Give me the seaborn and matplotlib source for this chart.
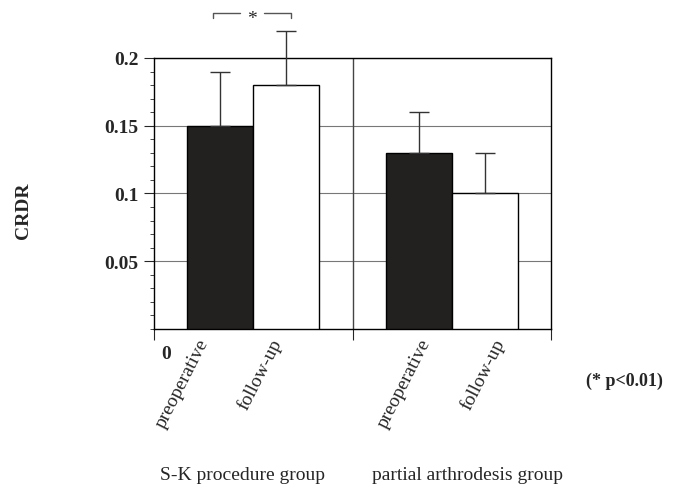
import pandas as pd
import matplotlib.pyplot as plt
import seaborn as sns
from matplotlib.ticker import MultipleLocator

groups = ["S-K procedure group", "partial arthrodesis group"]
phases = ["preoperative", "follow-up"]
crdr_pre = [0.15, 0.13]
crdr_follow = [0.18, 0.10]
sd_pre = [0.04, 0.03]
sd_follow = [0.04, 0.03]
y_ticks = [0.05, 0.1, 0.15, 0.2]

df = pd.DataFrame({
    "group": groups * 2,
    "phase": [phases[0]] * 2 + [phases[1]] * 2,
    "crdr": crdr_pre + crdr_follow,
    "sd": sd_pre + sd_follow,
})

sns.set_style("white")
plt.rcParams["font.family"] = ["Liberation Serif", "DejaVu Serif"]

fig = plt.figure(figsize=(6.79, 4.85), dpi=100)
ax = fig.add_axes([0.2268, 0.3196, 0.5847, 0.5588])

sns.barplot(data=df, x="group", y="crdr", hue="phase", hue_order=phases,
            palette=["#231f20", "white"], edgecolor="black", linewidth=1,
            width=0.665, errorbar=None, legend=False, zorder=3, ax=ax)

# one-sided error bars on top of each bar
centers = {}
for bar, (_, row) in zip(ax.patches, df.iterrows()):
    cx = bar.get_x() + bar.get_width() / 2
    centers[(row["group"], row["phase"])] = cx
    ax.errorbar(cx, row["crdr"], yerr=[[0], [row["sd"]]], fmt="none",
                ecolor="#333333", elinewidth=1, capsize=7, capthick=1,
                clip_on=False, zorder=4)

ax.set_xlim(-0.5, 1.5)
ax.set_ylim(0, 0.2)
ax.yaxis.set_minor_locator(MultipleLocator(0.01))
ax.set_yticks(y_ticks)
ax.set_yticklabels([f"{t:g}" for t in y_ticks], fontsize=14, fontweight="bold")
ax.tick_params(axis="y", which="major", direction="out", length=7, width=0.8, left=True, pad=4)
ax.tick_params(axis="y", which="minor", direction="out", length=3, width=0.6, left=True)
ax.set_xticks([-0.5, 0.5, 1.5])
ax.set_xticklabels([])
ax.tick_params(axis="x", direction="out", length=8, width=0.8, bottom=True)
ax.set_xlabel("")
ax.set_ylabel("")

ax.yaxis.grid(True, color="#777777", linewidth=0.8)
ax.set_axisbelow(True)
ax.axvline(0.5, color="#444444", linewidth=1, zorder=1)
for s in ax.spines.values():
    s.set_color("black")
    s.set_linewidth(1)

# rotated phase labels under each bar
offsets = {(groups[0], phases[0]): -0.08, (groups[0], phases[1]): -0.045,
           (groups[1], phases[0]): 0.04, (groups[1], phases[1]): 0.08}
for (g, p), dx in offsets.items():
    ax.text(centers[(g, p)] + dx, -0.008, p,
            rotation=63, rotation_mode="anchor", ha="right", va="center",
            fontsize=14, clip_on=False)

ax.text(-0.44, -0.018, "0", fontsize=14, fontweight="bold", ha="center", va="center")

# significance bracket
x1 = centers[(groups[0], phases[0])] - 0.035
x2 = centers[(groups[0], phases[1])] + 0.025
xm = (x1 + x2) / 2
yb, yt = 0.2295, 0.2332
kw = dict(color="#555555", linewidth=1, clip_on=False)
ax.plot([x1, x1, xm - 0.06], [yb, yt, yt], **kw)
ax.plot([xm + 0.06, x2, x2], [yt, yt, yb], **kw)
ax.text(xm, 0.2295, "*", ha="center", va="center", fontsize=14)

fig.text(0.035, 0.565, "CRDR", fontsize=14, fontweight="bold", rotation=90,
         ha="center", va="center")
fig.text(0.92, 0.214, "(* p<0.01)", fontsize=13, fontweight="bold", ha="center", va="center")
fig.text(0.357, 0.0103, groups[0], fontsize=14, ha="center", va="baseline")
fig.text(0.688, 0.0103, groups[1], fontsize=14, ha="center", va="baseline")

fig.savefig("out.png", dpi=100)
